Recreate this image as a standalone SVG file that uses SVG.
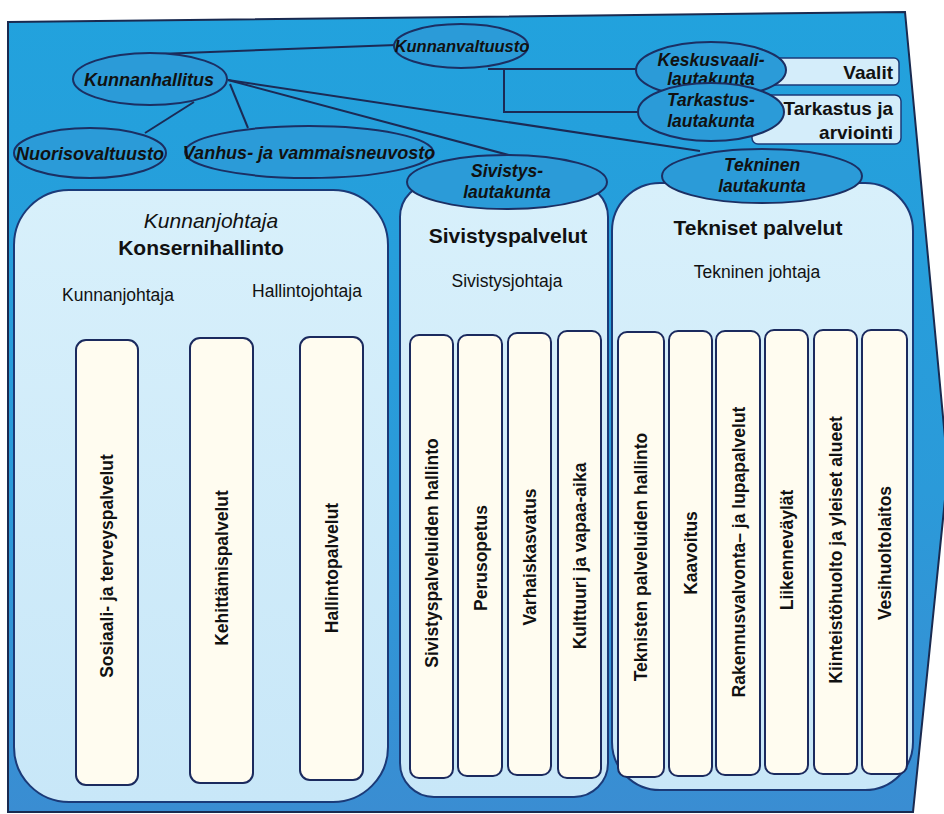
<svg xmlns="http://www.w3.org/2000/svg" width="944" height="814" viewBox="0 0 944 814">
<defs>
<linearGradient id="bg" x1="0" y1="0" x2="0" y2="1">
<stop offset="0" stop-color="#22a2dd"/>
<stop offset="0.6" stop-color="#2b9ad9"/>
<stop offset="1" stop-color="#3a8dd2"/>
</linearGradient>
<linearGradient id="pan" x1="0" y1="0" x2="0" y2="1">
<stop offset="0" stop-color="#d8f0fb"/>
<stop offset="1" stop-color="#c8e7f8"/>
</linearGradient>
<style>
.ell{fill:#2b9bd8;stroke:#1b2f63;stroke-width:2}
.pan{fill:url(#pan);stroke:#1b3a78;stroke-width:2}
.box{fill:#fffcf0;stroke:#1b2a5e;stroke-width:2}
.sbox{fill:#d4edfa;stroke:#1b3a78;stroke-width:1.5}
.con{fill:none;stroke:#1b2a55;stroke-width:2}
.et{font-family:"Liberation Sans",Arial,sans-serif;font-weight:bold;font-style:italic;font-size:18px;fill:#111;text-anchor:middle}
.et2{font-family:"Liberation Sans",Arial,sans-serif;font-weight:bold;font-style:italic;font-size:17.5px;fill:#111;text-anchor:middle}
.vt{font-family:"Liberation Sans",Arial,sans-serif;font-weight:bold;font-size:17.5px;fill:#111;text-anchor:middle}
.ht{font-family:"Liberation Sans",Arial,sans-serif;font-size:17.5px;fill:#111;text-anchor:middle}
.hb{font-family:"Liberation Sans",Arial,sans-serif;font-weight:bold;font-size:21px;fill:#111;text-anchor:middle}
.rt{font-family:"Liberation Sans",Arial,sans-serif;font-weight:bold;font-size:19px;fill:#111;text-anchor:end}
</style>
</defs>
<rect width="944" height="814" fill="#ffffff"/>
<polygon points="8,22 905,12 948,470 913,812 8,812" fill="url(#bg)" stroke="#1a2a50" stroke-width="2"/>

<g id="connectors">
<line class="con" x1="396" y1="45" x2="158" y2="54"/>
<polyline class="con" points="488,69 637,69"/>
<polyline class="con" points="504,69 504,112 638,112"/>
<line class="con" x1="228" y1="80" x2="516" y2="157"/>
<line class="con" x1="228" y1="80" x2="700" y2="151"/>
<line class="con" x1="194" y1="102" x2="145" y2="133"/>
<line class="con" x1="230" y1="84" x2="248" y2="128"/>
</g>

<g id="konsernihallinto">
<rect class="pan" x="14" y="190" width="374" height="612" rx="55"/>
<text x="211" y="228" class="hb" style="font-weight:normal;font-style:italic">Kunnanjohtaja</text>
<text x="201" y="255" class="hb">Konsernihallinto</text>
<text x="118" y="301" class="ht">Kunnanjohtaja</text>
<text x="307" y="297" class="ht">Hallintojohtaja</text>
</g>
<g id="sosiaali"><rect class="box" x="76" y="340" width="62" height="445" rx="10"/><text class="vt" transform="translate(113,566) rotate(-90)">Sosiaali- ja terveyspalvelut</text></g>
<g id="kehittamis"><rect class="box" x="190" y="338" width="63" height="445" rx="10"/><text class="vt" transform="translate(228,568) rotate(-90)">Kehittämispalvelut</text></g>
<g id="hallintopalvelut"><rect class="box" x="300" y="337" width="63" height="443" rx="10"/><text class="vt" transform="translate(338,568) rotate(-90)">Hallintopalvelut</text></g>

<g id="sivistyspalvelut">
<rect class="pan" x="400" y="183" width="208" height="614" rx="34"/>
<text x="508" y="243" class="hb">Sivistyspalvelut</text>
<text x="507" y="287" class="ht">Sivistysjohtaja</text>
</g>
<g id="siv-hallinto"><rect class="box" x="410" y="335" width="43" height="443" rx="9"/><text class="vt" transform="translate(438,553) rotate(-90)">Sivistyspalveluiden hallinto</text></g>
<g id="perusopetus"><rect class="box" x="458" y="335" width="44" height="441" rx="9"/><text class="vt" transform="translate(487,558) rotate(-90)">Perusopetus</text></g>
<g id="varhaiskasvatus"><rect class="box" x="508" y="333" width="43" height="442" rx="9"/><text class="vt" transform="translate(536,557) rotate(-90)">Varhaiskasvatus</text></g>
<g id="kulttuuri"><rect class="box" x="558" y="331" width="43" height="447" rx="9"/><text class="vt" transform="translate(586,556) rotate(-90)">Kulttuuri ja vapaa-aika</text></g>

<g id="tekniset">
<rect class="pan" x="612" y="183" width="301" height="607" rx="48"/>
<text x="758" y="235" class="hb">Tekniset palvelut</text>
<text x="757" y="278" class="ht">Tekninen johtaja</text>
</g>
<g id="tek-hallinto"><rect class="box" x="618" y="332" width="46" height="445" rx="9"/><text class="vt" transform="translate(647,557) rotate(-90)">Teknisten palveluiden hallinto</text></g>
<g id="kaavoitus"><rect class="box" x="669" y="331" width="43" height="445" rx="9"/><text class="vt" transform="translate(697,553) rotate(-90)">Kaavoitus</text></g>
<g id="rakennusvalvonta"><rect class="box" x="716" y="331" width="44" height="444" rx="9"/><text class="vt" transform="translate(745,552) rotate(-90)">Rakennusvalvonta– ja lupapalvelut</text></g>
<g id="liikennevaylat"><rect class="box" x="765" y="330" width="43" height="444" rx="9"/><text class="vt" transform="translate(793,550) rotate(-90)">Liikenneväylät</text></g>
<g id="kiinteisto"><rect class="box" x="814" y="330" width="43" height="444" rx="9"/><text class="vt" transform="translate(842,550) rotate(-90)">Kiinteistöhuolto ja yleiset alueet</text></g>
<g id="vesihuolto"><rect class="box" x="862" y="330" width="45" height="444" rx="9"/><text class="vt" transform="translate(891,553) rotate(-90)">Vesihuoltolaitos</text></g>

<g id="vaalit"><rect class="sbox" x="768" y="58" width="131" height="27" rx="5"/><text x="893" y="79" class="rt">Vaalit</text></g>
<g id="tarkastus-arviointi"><rect class="sbox" x="752" y="95" width="149" height="49" rx="6"/><text x="893" y="115" class="rt">Tarkastus ja</text><text x="893" y="139" class="rt">arviointi</text></g>

<g id="kunnanvaltuusto"><ellipse class="ell" cx="461" cy="46" rx="67" ry="22"/><text x="462" y="52" class="et" style="font-size:16.5px">Kunnanvaltuusto</text></g>
<g id="kunnanhallitus"><ellipse class="ell" cx="150" cy="79" rx="77" ry="26"/><text x="149" y="86" class="et">Kunnanhallitus</text></g>
<g id="nuorisovaltuusto"><ellipse class="ell" cx="90" cy="153" rx="76" ry="25"/><text x="90" y="160" class="et">Nuorisovaltuusto</text></g>
<g id="vanhusneuvosto"><ellipse class="ell" cx="309" cy="152" rx="124" ry="26"/><text x="309" y="159" class="et">Vanhus- ja vammaisneuvosto</text></g>
<g id="keskusvaalilautakunta"><ellipse class="ell" cx="711" cy="70" rx="75" ry="28"/><text x="711" y="66" class="et2">Keskusvaali-</text><text x="711" y="85" class="et2">lautakunta</text></g>
<g id="tarkastuslautakunta"><ellipse class="ell" cx="711" cy="112" rx="73" ry="29"/><text x="711" y="106" class="et2">Tarkastus-</text><text x="711" y="127" class="et2">lautakunta</text></g>
<g id="sivistyslautakunta"><ellipse class="ell" cx="507" cy="182" rx="100" ry="27"/><text x="507" y="177" class="et2">Sivistys-</text><text x="507" y="198" class="et2">lautakunta</text></g>
<g id="tekninenlautakunta"><ellipse class="ell" cx="762" cy="176" rx="100" ry="27"/><text x="762" y="171" class="et2">Tekninen</text><text x="762" y="192" class="et2">lautakunta</text></g>
</svg>
